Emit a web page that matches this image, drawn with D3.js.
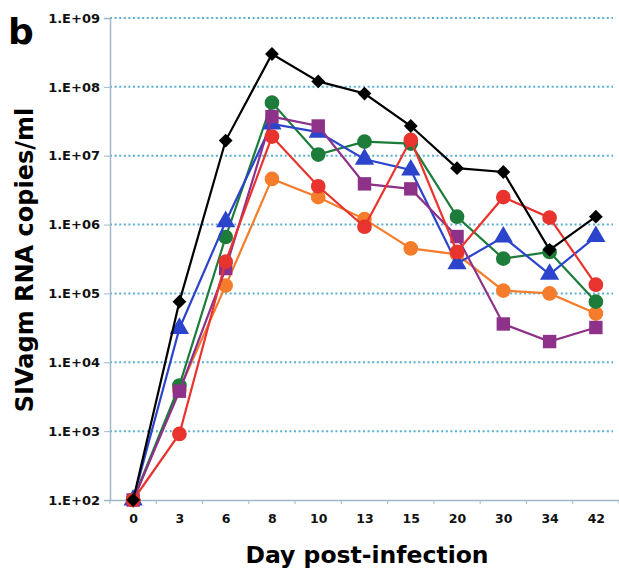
<!DOCTYPE html>
<html>
<head>
<meta charset="utf-8">
<script src="https://cdn.jsdelivr.net/npm/d3@7"></script>
<style>
  body { margin: 0; background: #fff; }
  text { font-family: "DejaVu Sans", Verdana, sans-serif; font-weight: bold; }
</style>
</head>
<body>
<div id="chart"></div>
<script>
// days (categorical axis)
var days = ["0", "3", "6", "8", "10", "13", "15", "20", "30", "34", "42"];
var yTicks = [1e2, 1e3, 1e4, 1e5, 1e6, 1e7, 1e8, 1e9];
var yTickLabels = ["1.E+02", "1.E+03", "1.E+04", "1.E+05", "1.E+06", "1.E+07", "1.E+08", "1.E+09"];

// one array per animal
var orangeVals = [100, 4.0e3, 1.3e5, 4.6e6, 2.5e6, 1.2e6, 4.5e5, 3.7e5, 1.1e5, 1.0e5, 5.1e4];
var greenVals  = [100, 4.6e3, 6.6e5, 5.9e7, 1.04e7, 1.6e7, 1.5e7, 1.3e6, 3.2e5, 4.0e5, 7.6e4];
var blueVals   = [100, 3.1e4, 1.1e6, 2.9e7, 2.2e7, 8.9e6, 6.2e6, 2.7e5, 6.6e5, 1.9e5, 6.7e5];
var purpleVals = [100, 3.8e3, 2.3e5, 3.7e7, 2.7e7, 3.9e6, 3.3e6, 6.7e5, 3.6e4, 2.0e4, 3.2e4];
var redVals    = [100, 9.1e2, 2.9e5, 1.9e7, 3.6e6, 9.3e5, 1.7e7, 4.0e5, 2.5e6, 1.26e6, 1.34e5];
var blackVals  = [100, 7.6e4, 1.66e7, 3.0e8, 1.2e8, 8.0e7, 2.7e7, 6.6e6, 5.8e6, 4.3e5, 1.3e6];

var series = [
  { name: "orange", color: "#f47c2a", shape: "circle", values: orangeVals },
  { name: "green", color: "#1d7c3a", shape: "circle", values: greenVals },
  { name: "blue", color: "#2c44cc", shape: "triangle", values: blueVals },
  { name: "purple", color: "#8d3189", shape: "square", values: purpleVals },
  { name: "red", color: "#e8332f", shape: "circle", values: redVals },
  { name: "black", color: "#000000", shape: "diamond", values: blackVals }
];

var svgWidth = 619, svgHeight = 572;
var margin = { top: 18, right: 0, bottom: 70, left: 110 },
    width = svgWidth - margin.left - margin.right,
    height = svgHeight - margin.top - margin.bottom - 2;

var svg = d3.select("#chart").append("svg")
    .attr("width", svgWidth)
    .attr("height", svgHeight);

var g = svg.append("g")
    .attr("transform", `translate(${margin.left}, ${margin.top})`);

var x = d3.scalePoint()
    .domain(days)
    .range([0, width])
    .padding(0.5);

var y = d3.scaleLog()
    .domain([1e2, 1e9])
    .range([height, 0]);

// dotted gridlines
g.selectAll(".grid")
  .data(yTicks.slice(1))
  .enter().append("line")
    .attr("x1", 0)
    .attr("x2", width - 6)
    .attr("y1", d => y(d))
    .attr("y2", d => y(d))
    .attr("stroke", "#5aaed0")
    .attr("stroke-width", 2)
    .attr("stroke-dasharray", "2,2.6");

// y axis
var yAxis = g.append("g")
    .call(d3.axisLeft(y).tickValues(yTicks)
      .tickFormat((d, i) => yTickLabels[i]).tickSize(6).tickPadding(4));
yAxis.select(".domain").attr("stroke", "#9fb8c8").attr("stroke-width", 1.5);
yAxis.selectAll(".tick line").attr("stroke", "#9fb8c8");
yAxis.selectAll("text").attr("font-size", 13).attr("fill", "#111");

// x axis
var xAxis = g.append("g")
    .attr("transform", `translate(0, ${height})`)
    .call(d3.axisBottom(x).tickSize(0).tickPadding(14));
xAxis.select(".domain").attr("stroke", "#9fb8c8").attr("stroke-width", 1.5);
xAxis.selectAll("text").attr("font-size", 12.5).attr("fill", "#111");

// small ticks between categories
var step = x.step();
g.selectAll(".xt")
  .data(days.concat([""]))
  .enter().append("line")
    .attr("x1", (d, i) => i * step)
    .attr("x2", (d, i) => i * step)
    .attr("y1", height)
    .attr("y2", height + 4)
    .attr("stroke", "#9fb8c8");

var line = d3.line()
    .x((d, i) => x(days[i]))
    .y(d => y(d));

var symbolFor = {
  circle: d3.symbol().type(d3.symbolCircle).size(170),
  square: d3.symbol().type(d3.symbolSquare).size(180),
  triangle: d3.symbol().type(d3.symbolTriangle).size(160),
  diamond: d3.symbol().type(d3.symbolSquare).size(95)
};

series.forEach(function(s) {
  g.append("path")
    .datum(s.values)
    .attr("fill", "none")
    .attr("stroke", s.color)
    .attr("stroke-width", 2.2)
    .attr("d", line);

  g.selectAll(".m-" + s.name)
    .data(s.values)
    .enter().append("path")
      .attr("transform", (d, i) => `translate(${x(days[i])}, ${y(d)})` + (s.shape === "diamond" ? " rotate(45)" : ""))
      .attr("d", symbolFor[s.shape])
      .attr("fill", s.color);
});

// titles
svg.append("text")
    .attr("x", 8)
    .attr("y", 44)
    .attr("font-size", 36)
    .text("b");

svg.append("text")
    .attr("transform", `translate(33, 260) rotate(-90)`)
    .attr("text-anchor", "middle")
    .attr("font-size", 24)
    .text("SIVagm RNA copies/ml");

svg.append("text")
    .attr("x", 367)
    .attr("y", 563)
    .attr("text-anchor", "middle")
    .attr("font-size", 23.5)
    .text("Day post-infection");
</script>
</body>
</html>
